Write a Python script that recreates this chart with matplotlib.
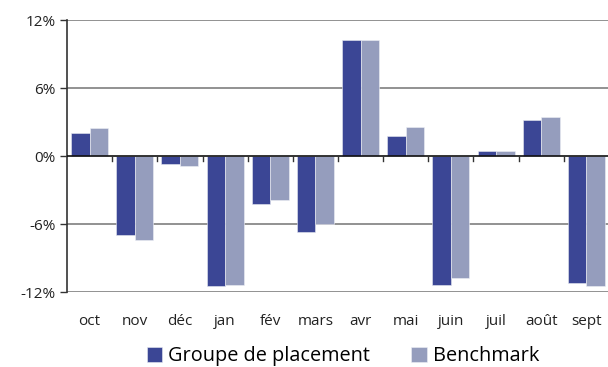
import matplotlib
matplotlib.use("Agg")
import matplotlib.pyplot as plt
import numpy as np

months = ["oct", "nov", "déc", "jan", "fév", "mars", "avr", "mai", "juin", "juil", "août", "sept"]
groupe = [2.0, -7.0, -0.7, -11.5, -4.2, -6.7, 10.2, 1.8, -11.4, 0.4, 3.2, -11.2]
benchmark = [2.45, -7.4, -0.85, -11.4, -3.9, -6.0, 10.2, 2.6, -10.8, 0.4, 3.4, -11.5]
yticks = [-12, -6, 0, 6, 12]
series_names = ["Groupe de placement", "Benchmark"]

dark = "#3B4695"
light = "#959DBD"

plt.rcParams["font.family"] = ["Open Sans", "DejaVu Sans"]

fig = plt.figure(figsize=(6.08, 3.67), dpi=100)
ax = fig.add_axes([67 / 608, 1 - 292 / 367, 542 / 608, 272 / 367])

x = np.arange(len(months))
w = 0.41
ax.bar(x - w / 2, groupe, w, color=dark, edgecolor="#E8EAF2", linewidth=0.4,
       label=series_names[0], zorder=3)
ax.bar(x + w / 2, benchmark, w, color=light, edgecolor="#EEF0F6", linewidth=0.4,
       label=series_names[1], zorder=3)

ax.set_xlim(-0.5, len(months) - 0.5)
ax.set_ylim(-12, 12)
ax.set_yticks(yticks)
ax.set_yticklabels([f"{v}%" for v in yticks], fontsize=11, color="#222222")
ax.tick_params(axis="y", length=5, width=1, color="#333333", pad=3)

for v in yticks:
    if v != 0:
        ax.axhline(v, color="#7F7F7F", linewidth=1.2, zorder=1)
ax.axhline(0, color="#111111", linewidth=1.2, zorder=4)

# category separators as ticks hanging below the zero line
for b in np.arange(0.5, len(months) - 0.5, 1.0):
    ax.plot([b, b], [0, -0.4], color="#333333", linewidth=1.0, zorder=4, clip_on=False)

ax.set_xticks(x)
ax.set_xticklabels(months, fontsize=11, color="#222222")
ax.tick_params(axis="x", length=0, pad=16)

for s in ["top", "right", "bottom"]:
    ax.spines[s].set_visible(False)
ax.spines["left"].set_color("#333333")
ax.spines["left"].set_linewidth(1.2)

fig.legend(loc="center", bbox_to_anchor=(0.564, 1 - 356 / 367), ncol=2, frameon=False,
           fontsize=14.3, handlelength=0.8, handleheight=0.8, handletextpad=0.3,
           columnspacing=2.05, borderaxespad=0)

fig.savefig("out.png", dpi=100)
